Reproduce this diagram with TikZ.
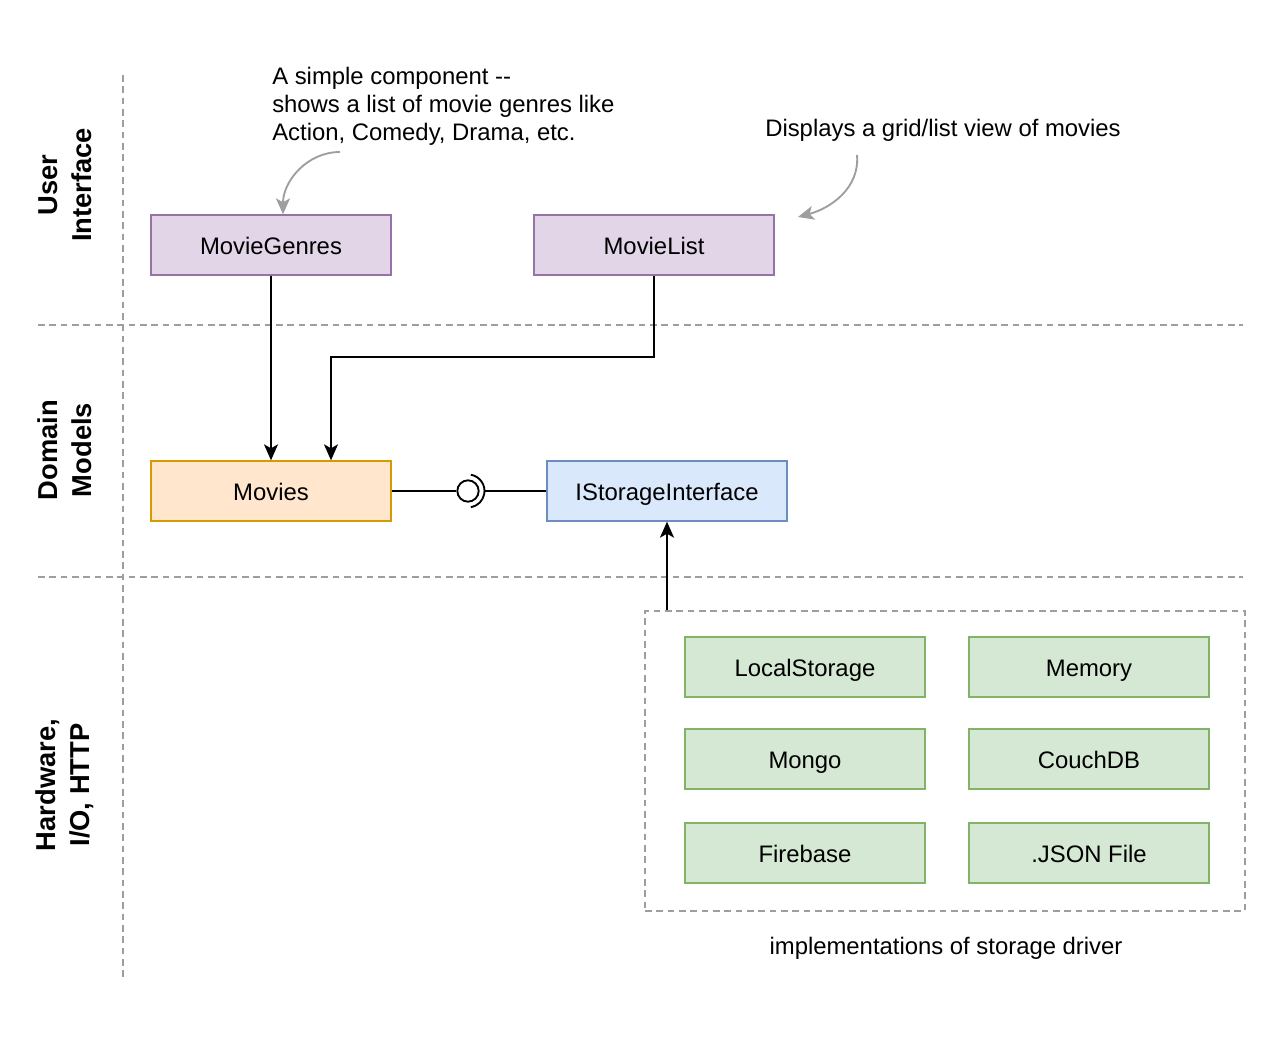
\documentclass[tikz,border=0pt]{standalone}
\usepackage{fontspec}
\setmainfont{Liberation Sans}
\usetikzlibrary{arrows.meta, positioning}

\definecolor{uifill}{HTML}{E1D5E7}
\definecolor{uidraw}{HTML}{9673A6}
\definecolor{modelfill}{HTML}{FFE6CC}
\definecolor{modeldraw}{HTML}{D79B00}
\definecolor{ifacefill}{HTML}{DAE8FC}
\definecolor{ifacedraw}{HTML}{6C8EBF}
\definecolor{drvfill}{HTML}{D5E8D4}
\definecolor{drvdraw}{HTML}{82B366}
\definecolor{sepgray}{HTML}{9E9E9E}

\begin{document}
\begin{tikzpicture}[x=0.75pt, y=-0.75pt,
                    font=\fontsize{17.9}{21}\selectfont,
                    block/.style={rectangle, draw, line width=1pt, minimum width=180pt, minimum height=45pt, inner sep=0pt, text height=16.5pt, text depth=2.3pt},
                    uibox/.style={block, fill=uifill, draw=uidraw},
                    modelbox/.style={block, fill=modelfill, draw=modeldraw},
                    ifacebox/.style={block, fill=ifacefill, draw=ifacedraw},
                    drvbox/.style={block, fill=drvfill, draw=drvdraw},
                    layer/.style={rotate=90, align=center, font=\bfseries\fontsize{20.5}{25.5}\selectfont},
                    sep/.style={draw=sepgray, line width=1pt, dash pattern=on 5pt off 3.5pt},
                    link/.style={line width=1.4pt, -{Stealth[length=12pt, width=10.5pt, inset=3pt]}},
                    note/.style={draw=sepgray, line width=1.4pt, -{Stealth[length=12pt, width=10.5pt, inset=3pt, fill=sepgray]}}]
  \useasboundingbox (0,0) rectangle (1286,1048);
  \draw[sep] (123,75) -- (123,980);
  \draw[sep] (38,325) -- (1243,325);
  \draw[sep] (38,577) -- (1243,577);
  \node[layer] (uilayer) at (65,185) {User\\Interface};
  \node[layer] (modellayer) at (65,450) {Domain\\Models};
  \node[layer] (hwlayer) at (65,785) {Hardware,\\I/O, HTTP};

  \node[uibox] (genres) at (271,245) {MovieGenres};
  \node[uibox] (movielist) at (654,245) {MovieList};
  \node[modelbox] (movies) at (271,491) {Movies};
  \node[ifacebox] (storage) at (667,491) {IStorageInterface};

  \node[anchor=north west, align=left, inner sep=0pt] (genrenote) at (272,67)
    {A simple component {-}{-}\\shows a list of movie genres like\\Action, Comedy, Drama, etc.};
  \node (listnote) at (943,130) {Displays a grid/list view of movies};
  \coordinate (genrefrom) at (340,152);
  \coordinate (listfrom) at (857,155);
  \draw[note] (genrefrom) to[out=180, in=90] ([xshift=9pt]genres.north);
  \draw[note] (listfrom) to[out=-85, in=15] (798,217);

  \draw[link] (genres.south) -- (movies.north);
  \coordinate (bend) at (331,357);
  \draw[link] (movielist.south) |- (bend) -- (bend |- movies.north);

  \node[circle, draw, line width=1.4pt, minimum size=16pt, inner sep=0pt] (ball) at (468,491) {};
  \draw[line width=1.4pt] (ball.center) ++(-80:16.5) arc[start angle=-80, end angle=80, radius=16.5];
  \coordinate (socket) at ([xshift=12.4pt]ball.center);
  \draw[line width=1.4pt] (movies.east) -- (ball.west);
  \draw[line width=1.4pt] (socket) -- (storage.west);

  \node[sep, rectangle, minimum width=450pt, minimum height=225pt, inner sep=0pt] (drivers) at (945,761) {};
  \node[drvbox] (local) at (805,667) {LocalStorage};
  \node[drvbox] (memory) at (1089,667) {Memory};
  \node[drvbox] (mongo) at (805,759) {Mongo};
  \node[drvbox] (couch) at (1089,759) {CouchDB};
  \node[drvbox] (firebase) at (805,853) {Firebase};
  \node[drvbox] (json) at (1089,853) {.JSON File};
  \node (drvcaption) at (946,948) {implementations of storage driver};
  \draw[link] (storage.south |- drivers.north) -- (storage.south);
\end{tikzpicture}
\end{document}
